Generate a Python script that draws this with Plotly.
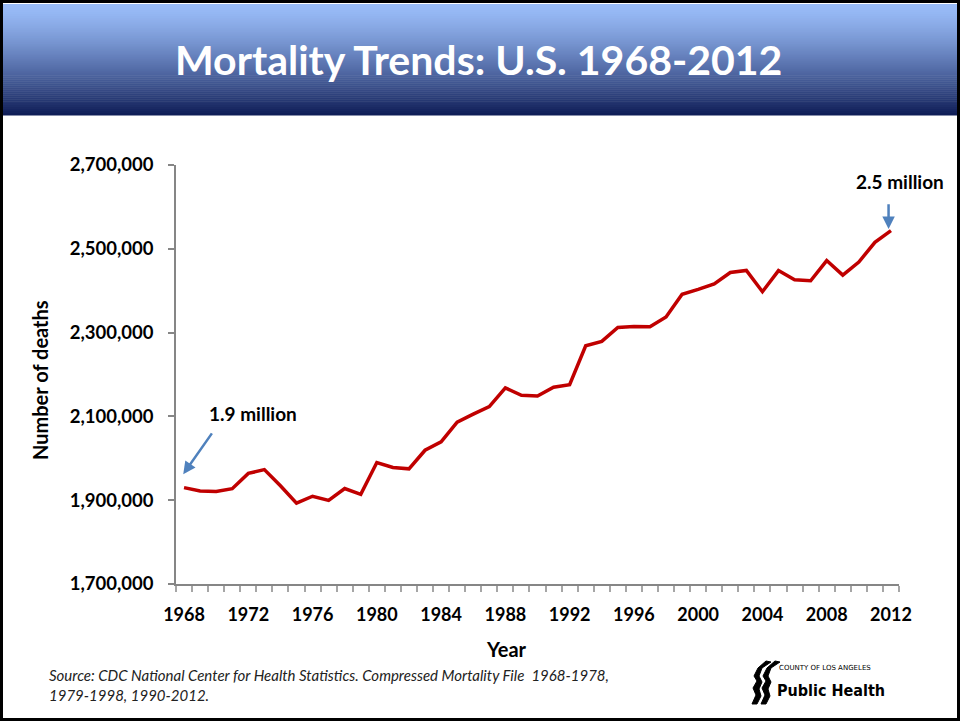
import plotly.graph_objects as go

# US deaths per year
YEARS = list(range(1968, 2013))
DEATHS = [
    1930082, 1921990, 1921031, 1927542, 1963944, 1973003, 1934388, 1892879,
    1909440, 1899597, 1927788, 1913841, 1989841, 1977981, 1974797, 2019201,
    2039369, 2086440, 2105361, 2123323, 2167999, 2150466, 2148463, 2169518,
    2175613, 2268553, 2278994, 2312132, 2314690, 2314245, 2337256, 2391399,
    2403351, 2416425, 2443387, 2448288, 2397615, 2448017, 2426264, 2423712,
    2471984, 2437163, 2468435, 2515458, 2543279,
]
Y_TICKS = [1700000, 1900000, 2100000, 2300000, 2500000, 2700000]
X_TICKS = list(range(1968, 2013, 4))

W, H = 960, 721
FONT = "Lato"


def px(x):
    return x / W


def py(y):
    return 1 - y / H


def path(points):
    # pixel points -> closed svg path in paper coords
    s = "M %.5f %.5f " % (px(points[0][0]), py(points[0][1]))
    for x, y in points[1:]:
        s += "L %.5f %.5f " % (px(x), py(y))
    return s + "Z"


def label(text, x, y, size, **kw):
    d = dict(text=text, xref="paper", yref="paper", x=px(x), y=py(y),
             xanchor="center", yanchor="middle", showarrow=False,
             font=dict(family=FONT, size=size, color="black"))
    d.update(kw)
    return d


fig = go.Figure()

fig.add_trace(go.Scatter(
    x=YEARS, y=DEATHS, mode="lines",
    line=dict(color="#c00000", width=3.5),
    showlegend=False, hoverinfo="x+y",
))

shapes = []
# title bar gradient, light blue at the top to navy at the bottom
top_c = (153, 188, 248)
bot_c = (16, 30, 88)
y0, y1 = 4, 115
n = 56
step = (y1 - y0) / n
for i in range(n):
    t = (i / (n - 1)) ** 1.3
    c = tuple(round(top_c[k] + (bot_c[k] - top_c[k]) * t) for k in range(3))
    shapes.append(dict(
        type="rect", xref="paper", yref="paper",
        x0=px(3), x1=px(957), y0=py(y0 + (i + 1) * step + 0.5), y1=py(y0 + i * step),
        fillcolor="rgb(%d,%d,%d)" % c, line=dict(width=0), layer="below",
    ))
# slide frame
shapes.append(dict(
    type="rect", xref="paper", yref="paper",
    x0=px(1.5), x1=px(958.5), y0=py(719.5), y1=py(1.5),
    line=dict(color="black", width=3), fillcolor="rgba(0,0,0,0)",
))
# logo profiles (rough)
for dx in (0, 9):
    pts = [(766 + dx, 661), (758 + dx, 668), (754 + dx, 676), (757 + dx, 681),
           (753 + dx, 688), (756 + dx, 695), (752 + dx, 704), (757 + dx, 704),
           (761 + dx, 696), (759 + dx, 689), (762 + dx, 682), (759 + dx, 676),
           (762 + dx, 668), (771 + dx, 662)]
    shapes.append(dict(type="path", xref="paper", yref="paper", path=path(pts),
                       fillcolor="black", line=dict(color="black", width=1)))

annotations = [
    label("<b>Mortality Trends: U.S. 1968-2012</b>", 478, 60, 41,
          font=dict(family=FONT, size=41, color="white")),
    label("<b>Number of deaths</b>", 40, 380, 20, textangle=-90),
    label("<b>Year</b>", 507, 649, 20),
    # callouts
    dict(text="<b>1.9 million</b>", x=1972.3, y=2108000, showarrow=False,
         xanchor="center", yanchor="middle",
         font=dict(family=FONT, size=19, color="black")),
    dict(text="", x=1967.95, y=1962000, ax=1969.8, ay=2063000,
         axref="x", ayref="y", showarrow=True, arrowhead=2, arrowsize=1,
         arrowwidth=2.5, arrowcolor="#4f81bd"),
    label("<b>2.5 million</b>", 900, 181, 19),
    dict(text="", x=2011.85, y=2547000, ax=2011.85, ay=2610000,
         axref="x", ayref="y", showarrow=True, arrowhead=2, arrowsize=1,
         arrowwidth=2.5, arrowcolor="#4f81bd"),
    # source and logo
    label("<i>Source: CDC National Center for Health Statistics. Compressed Mortality File  1968-1978,"
          "<br>1979-1998, 1990-2012.</i>", 47, 685, 15, xanchor="left", align="left",
          font=dict(family=FONT, size=15, color="#222222")),
    label("COUNTY OF LOS ANGELES", 777, 668, 7, xanchor="left",
          font=dict(family="DejaVu Sans", size=7, color="black")),
    label("<b>Public Health</b>", 775, 690, 16, xanchor="left",
          font=dict(family="DejaVu Sans Condensed", size=16, color="black")),
]

fig.update_layout(
    width=W, height=H,
    margin=dict(l=0, r=0, t=0, b=0),
    paper_bgcolor="white", plot_bgcolor="white",
    shapes=shapes, annotations=annotations,
    showlegend=False,
    xaxis=dict(
        domain=[px(176), px(899)], range=[1967.5, 2012.5], automargin=False,
        tickvals=X_TICKS, ticks="", showgrid=False, zeroline=False,
        showline=True, linecolor="#868686", linewidth=1.5,
        ticklabelstandoff=14,
        tickfont=dict(family=FONT, size=18, color="black", weight="bold"),
        minor=dict(ticks="outside", ticklen=6, tickcolor="#a6a6a6", tickwidth=1.5,
                   tick0=1967.5, dtick=1, showgrid=False),
    ),
    yaxis=dict(
        domain=[py(584), py(165)], range=[1700000, 2700000], automargin=False,
        tickvals=Y_TICKS, tickformat=",d", showgrid=False, zeroline=False,
        showline=True, linecolor="#868686", linewidth=1.5,
        ticks="outside", ticklen=6, tickcolor="#868686", tickwidth=1.5,
        ticklabelstandoff=11,
        tickfont=dict(family=FONT, size=18.5, color="black", weight="bold"),
    ),
)

fig.write_html(
    "out.html",
    config={"displayModeBar": False},
    post_script="document.body.style.margin='0';document.body.style.overflow='hidden';",
)
